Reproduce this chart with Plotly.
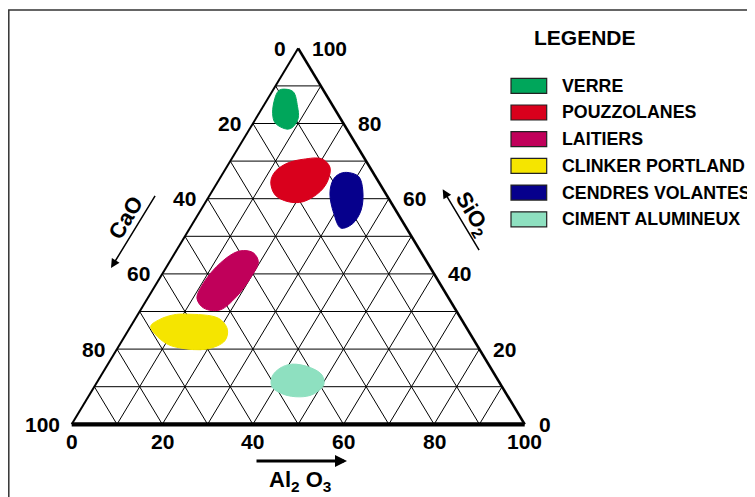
import numpy as np
import plotly.graph_objects as go

# ---------------- data ----------------
CATEGORIES = ["VERRE", "POUZZOLANES", "LAITIERS", "CLINKER PORTLAND",
              "CENDRES VOLANTES", "CIMENT ALUMINEUX"]
COLORS = ["#00A65B", "#D9001C", "#C0005A", "#F5E500", "#06008C", "#8EE0C0"]

# region outlines (percent SiO2, percent Al2O3; CaO = rest)
VERRE_SIO2 = [89.1, 88.5, 84.5, 81.4, 79.1, 78.5, 80.1, 82.7, 86.7, 88.6]
VERRE_AL2O3 = [1.8, 4.6, 7.6, 9.3, 9.3, 8.3, 4.9, 3.0, 1.5, 1.3]

POUZZ_SIO2 = [70.6, 68.4, 65.0, 61.9, 59.2, 59.2, 61.0, 64.5, 67.2, 69.4, 70.5]
POUZZ_AL2O3 = [19.9, 22.8, 24.1, 23.9, 21.5, 18.2, 14.4, 11.7, 11.3, 12.8, 15.9]

LAITIERS_SIO2 = [45.6, 43.2, 38.8, 33.9, 30.4, 30.9, 33.5, 37.5, 41.9, 45.5, 46.2]
LAITIERS_AL2O3 = [17.3, 19.6, 20.0, 19.4, 17.5, 13.7, 10.9, 10.3, 11.0, 13.0, 14.8]

CLINKER_SIO2 = [29.3, 28.2, 25.3, 22.2, 20.0, 20.3, 21.4, 24.0, 26.1, 27.9, 29.1]
CLINKER_AL2O3 = [10.7, 18.3, 21.7, 22.7, 19.8, 13.8, 10.3, 6.4, 4.4, 5.5, 7.9]

CENDRES_SIO2 = [67.0, 65.9, 62.3, 57.0, 53.3, 52.2, 56.1, 61.4, 65.0, 66.5]
CENDRES_AL2O3 = [27.2, 30.4, 33.1, 35.4, 35.3, 33.3, 29.8, 26.3, 25.2, 25.7]

CIMENT_SIO2 = [16.0, 15.1, 13.1, 10.5, 8.0, 7.3, 8.0, 10.0, 12.7, 14.9]
CIMENT_AL2O3 = [40.6, 45.1, 48.7, 50.4, 49.3, 46.7, 42.7, 39.2, 37.9, 38.5]

REGIONS_SIO2 = [VERRE_SIO2, POUZZ_SIO2, LAITIERS_SIO2, CLINKER_SIO2, CENDRES_SIO2, CIMENT_SIO2]
REGIONS_AL2O3 = [VERRE_AL2O3, POUZZ_AL2O3, LAITIERS_AL2O3, CLINKER_AL2O3, CENDRES_AL2O3, CIMENT_AL2O3]

TICKS = [0, 20, 40, 60, 80, 100]
GRID = [10, 20, 30, 40, 50, 60, 70, 80, 90]

# ---------------- geometry ----------------
OFF = 8                   # page body margin
W, H = 755 - OFF, 497 - OFF
X0, SX = 71.7 - OFF, 4.53      # figure px of Al2O3=0 corner, px per unit horizontally
Y0, SY = 424.3 - OFF, 3.76     # figure px of base line, px per unit vertically


def proj(al, si):
    al = np.asarray(al, float)
    si = np.asarray(si, float)
    return al + si / 2.0, si


def px2d(px, py):
    # page pixel -> data coordinates
    return (px - OFF - X0) / SX, (Y0 - (py - OFF)) / SY


def ppx(px):
    return (px - OFF) / W


def ppy(py):
    return 1 - (py - OFF) / H


fig = go.Figure()

# grid
gx, gy = [], []
for v in GRID:
    x1, y1 = proj(0, v); x2, y2 = proj(100 - v, v)
    gx += [float(x1), float(x2), None]; gy += [float(y1), float(y2), None]
    x1, y1 = proj(v, 0); x2, y2 = proj(v, 100 - v)
    gx += [float(x1), float(x2), None]; gy += [float(y1), float(y2), None]
    x1, y1 = proj(100 - v, 0); x2, y2 = proj(0, 100 - v)
    gx += [float(x1), float(x2), None]; gy += [float(y1), float(y2), None]
fig.add_trace(go.Scatter(x=gx, y=gy, mode="lines", line=dict(color="black", width=1),
                         hoverinfo="skip", showlegend=False))

# triangle edges
edges = [((0, 0), (0, 100), 2.0),      # left
         ((100, 0), (0, 100), 2.6),    # right
         ((0, 0), (100, 0), 4.2)]      # bottom
for (a1, s1), (a2, s2), w in edges:
    xa, ya = proj([a1, a2], [s1, s2])
    fig.add_trace(go.Scatter(x=xa, y=ya, mode="lines", line=dict(color="black", width=w),
                             hoverinfo="skip", showlegend=False))

# regions
for name, col, si, al in zip(CATEGORIES, COLORS, REGIONS_SIO2, REGIONS_AL2O3):
    si_c = list(si) + [si[0]]
    al_c = list(al) + [al[0]]
    xs, ys = proj(al_c, si_c)
    fig.add_trace(go.Scatter(x=xs, y=ys, mode="lines", fill="toself", fillcolor=col,
                             line=dict(color=col, width=1, shape="spline", smoothing=1.0),
                             name=name, showlegend=False))

FONT = "Liberation Sans, Arial, sans-serif"
TF = dict(family=FONT, size=21, color="black", weight="bold")
ann = []
for v in TICKS:
    x, y = proj(0, 100 - v)          # CaO on left edge
    ann.append(dict(x=float(x), y=float(y), text=str(v), showarrow=False, xanchor="right",
                    yanchor="middle", xshift=-10, font=TF))
    x, y = proj(100 - v, v)          # SiO2 on right edge
    ann.append(dict(x=float(x), y=float(y), text=str(v), showarrow=False, xanchor="left",
                    yanchor="middle", xshift=12, font=TF))
    x, y = proj(v, 0)                # Al2O3 on bottom edge
    ann.append(dict(x=float(x), y=float(y), text=str(v), showarrow=False, xanchor="center",
                    yanchor="middle", yshift=-17, font=TF))

# axis titles
AF = dict(family=FONT, size=22, color="black", weight="bold")
tx, ty = px2d(125, 218)
ann.append(dict(x=tx, y=ty, text="CaO", showarrow=False, textangle=-59, font=AF))
tx, ty = px2d(472, 214)
ann.append(dict(x=tx, y=ty, text="SiO<sub>2</sub>", showarrow=False, textangle=59, font=AF))
tx, ty = px2d(300, 481)
ann.append(dict(x=tx, y=ty, text="Al<sub>2</sub> O<sub>3</sub>", showarrow=False, font=AF))

# arrows
for (tail, tip, w, sz) in [((156, 194.3), (111, 268), 1.5, 1.2),
                           ((480, 251.7), (442.7, 189.3), 1.5, 1.2),
                           ((255, 461), (347, 461), 3.0, 0.8)]:
    ax_, ay_ = px2d(*tail)
    x_, y_ = px2d(*tip)
    ann.append(dict(x=x_, y=y_, ax=ax_, ay=ay_, xref="x", yref="y", axref="x", ayref="y",
                    showarrow=True, arrowhead=2, arrowsize=sz, arrowwidth=w, arrowcolor="black",
                    text=""))

# legend (drawn)
shapes = []
ann.append(dict(x=ppx(585.3), y=ppy(37), xref="paper", yref="paper", text="LEGENDE",
                showarrow=False, xanchor="center", yanchor="middle",
                font=dict(family=FONT, size=21, color="black", weight="bold")))
for i, (name, col) in enumerate(zip(CATEGORIES, COLORS)):
    cy = 85.8 + i * 26.7
    shapes.append(dict(type="rect", xref="paper", yref="paper",
                       x0=ppx(511), x1=ppx(546.7), y0=ppy(cy - 7.5), y1=ppy(cy + 7.5),
                       fillcolor=col, line=dict(color="#222222", width=1.2)))
    ann.append(dict(x=ppx(559.5), y=ppy(cy), xref="paper", yref="paper", text=name,
                    showarrow=False, xanchor="left", yanchor="middle",
                    font=dict(family=FONT, size=17.8, color="black", weight="bold")))

# outer frame
shapes.append(dict(type="rect", xref="paper", yref="paper", x0=ppx(8.8), y0=ppy(10),
                   x1=1.05, y1=-0.05, line=dict(color="#333333", width=1.5),
                   fillcolor="rgba(0,0,0,0)"))

fig.update_layout(
    width=W, height=H, margin=dict(l=0, r=0, t=0, b=0),
    paper_bgcolor="white", plot_bgcolor="white",
    xaxis=dict(range=[-X0 / SX, (W - X0) / SX], visible=False, fixedrange=True),
    yaxis=dict(range=[-(H - Y0) / SY, Y0 / SY], visible=False, fixedrange=True),
    annotations=ann, shapes=shapes, showlegend=False,
)

fig.write_html("out.html")
